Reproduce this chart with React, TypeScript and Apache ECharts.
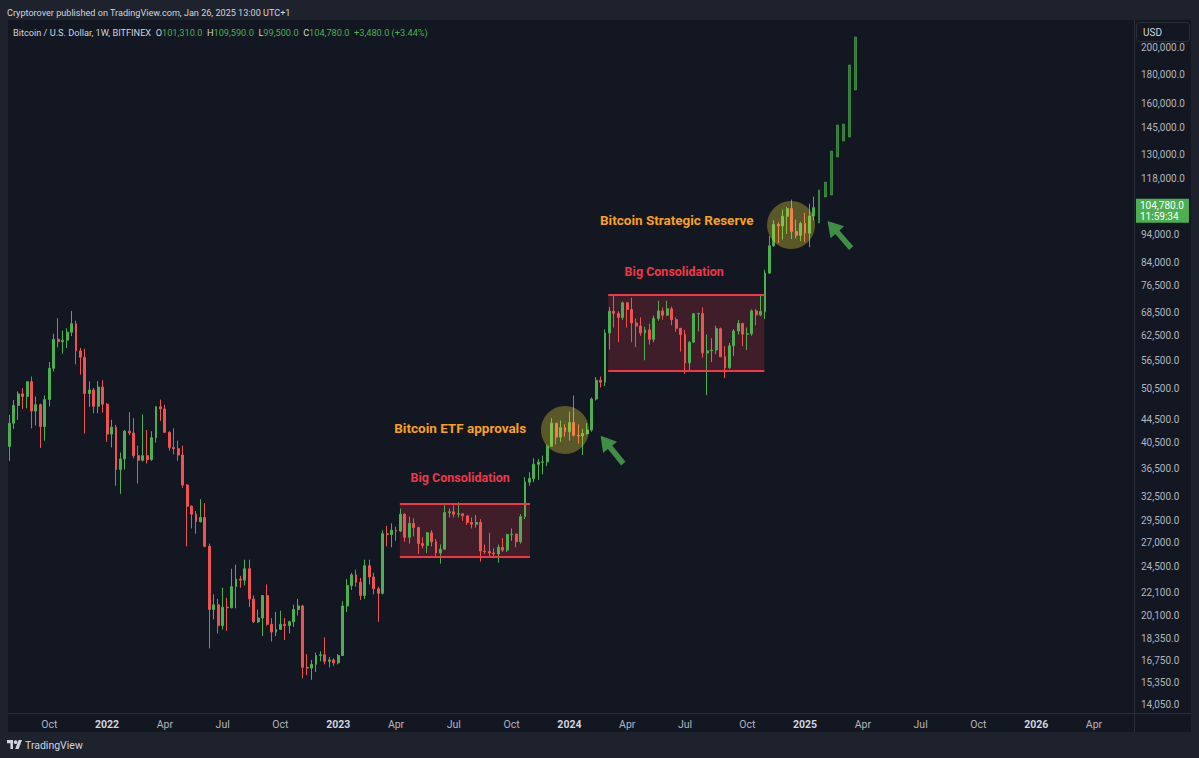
import React, { useEffect, useRef } from 'react';
import * as echarts from 'echarts';

// Weekly candles: [week start, open, high, low, close]
const weeks2021: [string, number, number, number, number][] = [
  ['2021-08-02', 39870, 45300, 37600, 43800],
  ['2021-08-09', 43800, 48100, 42800, 47050],
  ['2021-08-16', 47050, 49800, 44400, 49300],
  ['2021-08-23', 49300, 50500, 46400, 48800],
  ['2021-08-30', 48800, 51900, 46500, 51800],
  ['2021-09-06', 51800, 52900, 42900, 46000],
  ['2021-09-13', 46000, 48800, 43400, 47200],
  ['2021-09-20', 47200, 47400, 39600, 43200],
  ['2021-09-27', 43200, 49000, 40800, 48200],
  ['2021-10-04', 48200, 56100, 46900, 54700],
  ['2021-10-11', 54700, 62900, 54000, 61500],
  ['2021-10-18', 61500, 67000, 59500, 60900],
  ['2021-10-25', 60900, 63700, 58000, 61300],
  ['2021-11-01', 61300, 64300, 59400, 63300],
  ['2021-11-08', 63300, 69000, 62300, 65500],
  ['2021-11-15', 65500, 66300, 55600, 58700],
  ['2021-11-22', 58700, 59400, 53300, 57200],
  ['2021-11-29', 57200, 59200, 42000, 49400],
  ['2021-12-06', 49400, 51900, 46800, 50100],
  ['2021-12-13', 50100, 50500, 45600, 46900],
  ['2021-12-20', 46900, 51900, 45600, 50700],
  ['2021-12-27', 50700, 52100, 45700, 47300],
];

const weeks2022: [string, number, number, number, number][] = [
  ['2022-01-03', 47300, 47500, 40600, 41900],
  ['2022-01-10', 41900, 44400, 39700, 43100],
  ['2022-01-17', 43100, 43500, 34000, 36300],
  ['2022-01-24', 36300, 38900, 32900, 37900],
  ['2022-01-31', 37900, 42600, 36300, 42400],
  ['2022-02-07', 42400, 45800, 41700, 42100],
  ['2022-02-14', 42100, 44700, 38000, 38400],
  ['2022-02-21', 38400, 40000, 34300, 37700],
  ['2022-02-28', 37700, 45400, 37500, 38400],
  ['2022-03-07', 38400, 42600, 37200, 37800],
  ['2022-03-14', 37800, 42400, 37600, 41300],
  ['2022-03-21', 41300, 46900, 40500, 46800],
  ['2022-03-28', 46800, 48200, 44200, 46400],
  ['2022-04-04', 46400, 47200, 42100, 42200],
  ['2022-04-11', 42200, 42400, 39200, 39700],
  ['2022-04-18', 39700, 42900, 38600, 39500],
  ['2022-04-25', 39500, 40800, 37600, 38500],
  ['2022-05-02', 38500, 40000, 33700, 34100],
  ['2022-05-09', 34100, 34200, 26600, 31300],
  ['2022-05-16', 31300, 31400, 28600, 30300],
  ['2022-05-23', 30300, 30700, 28000, 29400],
  ['2022-05-30', 29400, 32200, 29300, 29900],
  ['2022-06-06', 29900, 31700, 26500, 26600],
  ['2022-06-13', 26600, 26900, 17600, 20600],
  ['2022-06-20', 20600, 21900, 19800, 21000],
  ['2022-06-27', 21000, 21500, 18700, 19300],
  ['2022-07-04', 19300, 22500, 19000, 20800],
  ['2022-07-11', 20800, 21600, 18900, 20750],
  ['2022-07-18', 20750, 24300, 20700, 22600],
  ['2022-07-25', 22600, 24700, 20700, 23300],
  ['2022-08-01', 23300, 23600, 22500, 23200],
  ['2022-08-08', 23200, 25200, 22700, 24300],
  ['2022-08-15', 24300, 25200, 20800, 21500],
  ['2022-08-22', 21500, 21800, 19500, 19600],
  ['2022-08-29', 19600, 20600, 19500, 19900],
  ['2022-09-05', 19900, 21800, 18500, 21800],
  ['2022-09-12', 21800, 22800, 19300, 19400],
  ['2022-09-19', 19400, 19900, 18100, 18800],
  ['2022-09-26', 18800, 20400, 18500, 19000],
  ['2022-10-03', 19000, 20500, 19000, 19400],
  ['2022-10-10', 19400, 19900, 18200, 19300],
  ['2022-10-17', 19300, 19700, 18700, 19600],
  ['2022-10-24', 19600, 21000, 19200, 20600],
  ['2022-10-31', 20600, 21500, 20100, 20900],
  ['2022-11-07', 20900, 21000, 15600, 16300],
  ['2022-11-14', 16300, 17200, 15800, 16250],
  ['2022-11-21', 16250, 16800, 15500, 16500],
  ['2022-11-28', 16500, 17300, 16000, 17100],
  ['2022-12-05', 17100, 17400, 16700, 17150],
  ['2022-12-12', 17150, 18400, 16500, 16700],
  ['2022-12-19', 16700, 17000, 16300, 16800],
  ['2022-12-26', 16800, 16900, 16400, 16600],
];

const weeks2023: [string, number, number, number, number][] = [
  ['2023-01-02', 16600, 17200, 16500, 17100],
  ['2023-01-09', 17100, 21300, 17100, 20900],
  ['2023-01-16', 20900, 23300, 20400, 22700],
  ['2023-01-23', 22700, 23900, 22300, 23700],
  ['2023-01-30', 23700, 24200, 22600, 23000],
  ['2023-02-06', 23000, 23400, 21400, 21800],
  ['2023-02-13', 21800, 25200, 21500, 24600],
  ['2023-02-20', 24600, 25200, 22800, 23500],
  ['2023-02-27', 23500, 23900, 21900, 22400],
  ['2023-03-06', 22400, 22600, 19600, 22000],
  ['2023-03-13', 22000, 28400, 21900, 28000],
  ['2023-03-20', 28000, 28900, 26600, 27900],
  ['2023-03-27', 27900, 29200, 26500, 28400],
  ['2023-04-03', 28400, 28800, 27200, 28300],
  ['2023-04-10', 28300, 31000, 28200, 30300],
  ['2023-04-17', 30300, 30400, 27100, 27600],
  ['2023-04-24', 27600, 30000, 26900, 29200],
  ['2023-05-01', 29200, 29800, 27700, 28700],
  ['2023-05-08', 28700, 28800, 25800, 26900],
  ['2023-05-15', 26900, 27600, 26400, 26700],
  ['2023-05-22', 26700, 28200, 25900, 28100],
  ['2023-05-29', 28100, 28400, 26600, 27100],
  ['2023-06-05', 27100, 27400, 25400, 25900],
  ['2023-06-12', 25900, 26800, 24800, 26300],
  ['2023-06-19', 26300, 31400, 26300, 30500],
  ['2023-06-26', 30500, 31000, 29900, 30600],
  ['2023-07-03', 30600, 31400, 29900, 30300],
  ['2023-07-10', 30300, 31800, 29900, 30350],
  ['2023-07-17', 30350, 30400, 29500, 30100],
  ['2023-07-24', 30100, 30100, 29000, 29300],
  ['2023-07-31', 29300, 29900, 28600, 29100],
  ['2023-08-07', 29100, 30200, 28700, 29300],
  ['2023-08-14', 29300, 29700, 25000, 26100],
  ['2023-08-21', 26100, 26800, 25800, 26050],
  ['2023-08-28', 26050, 28100, 25400, 25900],
  ['2023-09-04', 25900, 26400, 25400, 25800],
  ['2023-09-11', 25800, 26800, 24900, 26500],
  ['2023-09-18', 26500, 27500, 26000, 26200],
  ['2023-09-25', 26200, 28000, 26000, 27900],
  ['2023-10-02', 27900, 28600, 27200, 27950],
  ['2023-10-09', 27950, 28000, 26500, 27100],
  ['2023-10-16', 27100, 30300, 26900, 30000],
  ['2023-10-23', 30000, 35200, 29700, 34500],
  ['2023-10-30', 34500, 35900, 34000, 35000],
  ['2023-11-06', 35000, 38000, 34500, 37100],
  ['2023-11-13', 37100, 37900, 34800, 37400],
  ['2023-11-20', 37400, 38400, 35600, 37450],
  ['2023-11-27', 37450, 40200, 36800, 39900],
  ['2023-12-04', 39900, 44700, 39900, 43800],
  ['2023-12-11', 43800, 43800, 40200, 41400],
  ['2023-12-18', 41400, 44300, 40600, 43000],
  ['2023-12-25', 43000, 43600, 41500, 42300],
];

const weeks2024: [string, number, number, number, number][] = [
  ['2024-01-01', 42300, 45900, 40800, 43900],
  ['2024-01-08', 43900, 49000, 41500, 41700],
  ['2024-01-15', 41700, 43600, 40300, 41600],
  ['2024-01-22', 41600, 42800, 38500, 42000],
  ['2024-01-29', 42000, 43800, 41800, 42600],
  ['2024-02-05', 42600, 48600, 42300, 48300],
  ['2024-02-12', 48300, 52800, 48000, 52100],
  ['2024-02-19', 52100, 52900, 50600, 51700],
  ['2024-02-26', 51700, 64000, 50900, 63100],
  ['2024-03-04', 63100, 70100, 59000, 68900],
  ['2024-03-11', 68900, 73800, 64500, 68300],
  ['2024-03-18', 68300, 68900, 60800, 67200],
  ['2024-03-25', 67200, 71700, 66500, 71300],
  ['2024-04-01', 71300, 71400, 64500, 69400],
  ['2024-04-08', 69400, 72800, 60800, 65700],
  ['2024-04-15', 65700, 66900, 59600, 64900],
  ['2024-04-22', 64900, 67200, 62400, 63100],
  ['2024-04-29', 63100, 64700, 56500, 63900],
  ['2024-05-06', 63900, 65500, 60200, 61500],
  ['2024-05-13', 61500, 67700, 60800, 66900],
  ['2024-05-20', 66900, 71900, 66300, 69000],
  ['2024-05-27', 69000, 70000, 66600, 67800],
  ['2024-06-03', 67800, 71900, 67600, 69600],
  ['2024-06-10', 69600, 70200, 65100, 66600],
  ['2024-06-17', 66600, 67200, 63400, 64300],
  ['2024-06-24', 64300, 64400, 58500, 62700],
  ['2024-07-01', 62700, 63900, 53500, 55900],
  ['2024-07-08', 55900, 61000, 54300, 60800],
  ['2024-07-15', 60800, 68400, 60600, 68200],
  ['2024-07-22', 68200, 68500, 63500, 68250],
  ['2024-07-29', 68250, 70000, 57100, 58200],
  ['2024-08-05', 58200, 62700, 49100, 58700],
  ['2024-08-12', 58700, 61800, 56100, 58900],
  ['2024-08-19', 58900, 65000, 57900, 64200],
  ['2024-08-26', 64200, 64500, 57200, 57300],
  ['2024-09-02', 57300, 59800, 52600, 54800],
  ['2024-09-09', 54800, 60600, 54600, 59900],
  ['2024-09-16', 59900, 64100, 57500, 63600],
  ['2024-09-23', 63600, 66500, 62700, 65600],
  ['2024-09-30', 65600, 65700, 59800, 62800],
  ['2024-10-07', 62800, 64500, 58900, 62900],
  ['2024-10-14', 62900, 69400, 62400, 69000],
  ['2024-10-21', 69000, 69500, 65100, 67900],
  ['2024-10-28', 67900, 73600, 67500, 68800],
  ['2024-11-04', 68800, 81500, 66800, 80400],
  ['2024-11-11', 80400, 93500, 80200, 89800],
  ['2024-11-18', 89800, 99600, 89400, 97900],
  ['2024-11-25', 97900, 98800, 90800, 97300],
  ['2024-12-02', 97300, 104000, 92100, 101200],
  ['2024-12-09', 101200, 105100, 94200, 104400],
  ['2024-12-16', 104400, 108300, 92300, 95200],
  ['2024-12-23', 95200, 99900, 92500, 93700],
  ['2024-12-30', 93700, 98900, 91500, 98300],
];

const weeks2025: [string, number, number, number, number][] = [
  ['2025-01-06', 98300, 102700, 91200, 94500],
  ['2025-01-13', 94500, 106500, 89300, 101300],
  ['2025-01-20', 101310, 109590, 99500, 104780],
];

// Projected path (bars pattern): [date, low, high]
const projection: [string, number, number][] = [
  ['2025-01-28', 98500, 112600],
  ['2025-02-07', 109400, 116200],
  ['2025-02-16', 110300, 131800],
  ['2025-02-26', 128700, 146400],
  ['2025-03-07', 137300, 147000],
  ['2025-03-17', 139500, 186700],
  ['2025-03-26', 168700, 209100],
];

const priceTicks = [14050, 15350, 16750, 18350, 20100, 22100, 24500, 27000, 29500, 32500, 36500, 40500,
  44500, 50500, 56500, 62500, 68500, 76500, 84000, 94000, 118000, 130000, 145000, 160000, 180000, 200000];

const timeTicks = ['2021-10-04', '2022-01-03', '2022-04-04', '2022-07-04', '2022-10-03', '2023-01-02',
  '2023-04-03', '2023-07-03', '2023-10-02', '2024-01-01', '2024-04-01', '2024-07-01', '2024-10-07',
  '2025-01-06', '2025-04-07', '2025-07-07', '2025-10-06', '2026-01-05', '2026-04-06'];

// Annotations (date, price)
const zoneStarts = ['2023-04-09', '2024-03-02'];
const zoneEnds = ['2023-10-31', '2024-11-03'];
const zoneTops = [31600, 73600];
const zoneBottoms = [25500, 54100];

const noteTexts = ['Big Consolidation', 'Bitcoin ETF approvals', 'Big Consolidation', 'Bitcoin Strategic Reserve'];
const noteDates = ['2023-07-13', '2023-07-13', '2024-06-14', '2024-06-18'];
const notePrices = [35100, 42900, 80800, 99700];
const noteKinds = ['zone', 'event', 'zone', 'event'];

const circleDates = ['2023-12-25', '2024-12-15'];
const circlePrices = [42600, 97700];

const arrowDates = ['2024-03-08', '2025-03-01'];
const arrowPrices = [39350, 94000];
const arrowAngles = [39, 41];

const UP = '#4caf50';
const DOWN = '#ef5350';
const ZONE_RED = '#f23645';
const ORANGE = '#f7a11f';
const FONT = 'Roboto, "Noto Sans", "DejaVu Sans", sans-serif';

const t = (s: string) => new Date(s + 'T00:00:00Z').getTime();
const fmt = (v: number) => String(Math.round(v)).replace(/\B(?=(\d{3})+(?!\d))/g, ',') + '.0';
const MONTHS = ['Jan', 'Feb', 'Mar', 'Apr', 'May', 'Jun', 'Jul', 'Aug', 'Sep', 'Oct', 'Nov', 'Dec'];

export default function App() {
  const ref = useRef<HTMLDivElement>(null);

  useEffect(() => {
    document.body.style.margin = '0';
    const chart = echarts.init(ref.current!, null, { renderer: 'svg' });

    const all = [...weeks2021, ...weeks2022, ...weeks2023, ...weeks2024, ...weeks2025];
    const candles = all.map(([d, o, h, l, c]) => [t(d), o, c, l, h]);
    const proj = projection.map(([d, lo, hi]) => [t(d), lo, hi, lo, hi]);
    const last = all[all.length - 1];
    const prev = all[all.length - 2];
    const chg = last[4] - prev[4];
    const pct = ((chg / prev[4]) * 100).toFixed(2);

    const zoneAreas = zoneStarts.map((s, i) => [
      { xAxis: t(s), yAxis: zoneTops[i] },
      { xAxis: t(zoneEnds[i]), yAxis: zoneBottoms[i] },
    ]);
    const zoneLines: any[] = [];
    zoneStarts.forEach((s, i) => {
      zoneLines.push([{ coord: [t(s), zoneTops[i]] }, { coord: [t(zoneEnds[i]), zoneTops[i]] }]);
      zoneLines.push([{ coord: [t(s), zoneBottoms[i]] }, { coord: [t(zoneEnds[i]), zoneBottoms[i]] }]);
    });

    const marks: any[] = [];
    circleDates.forEach((d, i) => marks.push({
      coord: [t(d), circlePrices[i]], symbol: 'circle', symbolSize: 48,
      itemStyle: { color: 'rgba(255,235,59,0.30)' }, label: { show: false },
    }));
    arrowDates.forEach((d, i) => marks.push({
      coord: [t(d), arrowPrices[i]],
      symbol: 'path://M9,0 L18,15 L11.8,15 L11.8,36 L6.2,36 L6.2,15 L0,15 Z',
      symbolSize: [18, 36], symbolRotate: arrowAngles[i],
      itemStyle: { color: 'rgba(76,175,80,0.78)' }, label: { show: false },
    }));
    noteTexts.forEach((txt, i) => marks.push({
      name: txt, coord: [t(noteDates[i]), notePrices[i]], symbol: 'circle', symbolSize: 1,
      itemStyle: { color: 'rgba(0,0,0,0)' },
      label: {
        show: true, position: 'inside', formatter: txt,
        color: noteKinds[i] === 'zone' ? ZONE_RED : ORANGE,
        fontSize: noteKinds[i] === 'zone' ? 12.5 : 13.5, fontWeight: 'bold', fontFamily: FONT,
      },
    }));

    const option: any = {
      animation: false,
      backgroundColor: '#1e222d',
      textStyle: { fontFamily: FONT },
      grid: { left: 8, top: 20, right: 65, bottom: 45 },
      xAxis: {
        type: 'value',
        min: t('2021-07-31'),
        max: t('2026-06-08'),
        axisLine: { show: false },
        axisTick: { show: false },
        splitLine: { show: false },
        axisLabel: {
          customValues: timeTicks.map(t),
          color: '#b2b5be',
          fontSize: 10.5,
          margin: 6,
          formatter: (v: number) => {
            const d = new Date(v);
            return d.getUTCMonth() === 0 ? `{y|${d.getUTCFullYear()}}` : MONTHS[d.getUTCMonth()];
          },
          rich: { y: { fontWeight: 'bold', color: '#d1d4dc', fontSize: 10.5, fontFamily: FONT } },
        },
      },
      yAxis: {
        type: 'log',
        logBase: 10,
        position: 'right',
        min: 13550,
        max: 224000,
        axisLine: { show: false },
        axisTick: { show: false },
        splitLine: { show: false },
        axisLabel: {
          customValues: priceTicks,
          color: '#b2b5be',
          fontSize: 10,
          margin: 7,
          formatter: (v: number) => fmt(v),
        },
      },
      series: [
        {
          type: 'candlestick',
          name: 'BTCUSD',
          data: candles,
          encode: { x: 0, y: [1, 2, 3, 4] },
          barWidth: 2.4,
          itemStyle: { color: UP, color0: DOWN, borderColor: UP, borderColor0: DOWN, borderWidth: 1 },
          markArea: {
            silent: true,
            itemStyle: { color: 'rgba(242,54,69,0.2)' },
            data: zoneAreas,
          },
          markLine: {
            silent: true,
            symbol: ['none', 'none'],
            lineStyle: { color: ZONE_RED, width: 2, type: 'solid' },
            label: { show: false },
            data: zoneLines,
          },
          markPoint: { silent: true, data: marks },
        },
        {
          type: 'candlestick',
          name: 'Projection',
          data: proj,
          encode: { x: 0, y: [1, 2, 3, 4] },
          barWidth: 2.4,
          itemStyle: {
            color: 'rgba(76,175,80,0.6)', color0: 'rgba(76,175,80,0.6)',
            borderColor: 'rgba(76,175,80,0.6)', borderColor0: 'rgba(76,175,80,0.6)', borderWidth: 1,
          },
          markLine: {
            silent: true,
            symbol: ['none', 'none'],
            data: [
              {
                yAxis: last[4],
                lineStyle: { color: 'rgba(0,0,0,0)', width: 1 },
                label: {
                  show: true,
                  position: 'end',
                  distance: 2,
                  formatter: `${fmt(last[4])}\n11:59:34`,
                  backgroundColor: UP,
                  color: '#ffffff',
                  fontSize: 10,
                  lineHeight: 11,
                  padding: [1, 5, 1, 4],
                  offset: [0, 3],
                },
              },
            ],
          },
        },
      ],
      graphic: [
        { type: 'rect', z: -1, silent: true, shape: { x: 8, y: 20, width: 1183, height: 712 }, style: { fill: '#131722' } },
        { type: 'line', z: 1, silent: true, shape: { x1: 1134.5, y1: 20, x2: 1134.5, y2: 732 }, style: { stroke: '#2a2e39', lineWidth: 1 } },
        { type: 'line', z: 1, silent: true, shape: { x1: 8, y1: 713.5, x2: 1191, y2: 713.5 }, style: { stroke: '#2a2e39', lineWidth: 1 } },
        {
          type: 'text', z: 10, x: 7, y: 13,
          style: { text: 'Cryptorover published on TradingView.com, Jan 26, 2025 13:00 UTC+1', fill: '#d1d4dc', fontSize: 9.1, fontFamily: FONT, verticalAlign: 'middle' },
        },
        {
          type: 'text', z: 10, x: 13, y: 32,
          style: {
            text: `Bitcoin / U.S. Dollar, 1W, BITFINEX  O{g|${fmt(last[1])}}  H{g|${fmt(last[2])}}  L{g|${fmt(last[3])}}  C{g|${fmt(last[4])}}  {g|+${fmt(chg)} (+${pct}%)}`,
            fill: '#d1d4dc', fontSize: 9.2, fontFamily: FONT, verticalAlign: 'middle',
            rich: { g: { fill: UP, fontSize: 9.2, fontFamily: FONT } },
          },
        },
        { type: 'rect', z: 10, silent: true, shape: { x: 1136.5, y: 22.5, width: 53, height: 19, r: 3 }, style: { fill: '#131722', stroke: '#2a2e39', lineWidth: 1 } },
        { type: 'text', z: 11, x: 1143, y: 32, style: { text: 'USD', fill: '#d1d4dc', fontSize: 10, fontFamily: FONT, verticalAlign: 'middle' } },
        {
          type: 'group', z: 10, x: 7, y: 740,
          children: [
            { type: 'polygon', shape: { points: [[0, 0], [6, 0], [6, 9], [3.4, 9], [3.4, 3.2], [0, 3.2]] }, style: { fill: '#d1d4dc' } },
            { type: 'circle', shape: { cx: 8.6, cy: 2.2, r: 1.9 }, style: { fill: '#d1d4dc' } },
            { type: 'polygon', shape: { points: [[8.2, 9], [11.6, 0], [15, 0], [11.6, 9]] }, style: { fill: '#d1d4dc' } },
          ],
        },
        { type: 'text', z: 10, x: 25, y: 745, style: { text: 'TradingView', fill: '#d1d4dc', fontSize: 10.5, fontFamily: FONT, verticalAlign: 'middle' } },
      ],
    };

    chart.setOption(option);
    return () => chart.dispose();
  }, []);

  return <div ref={ref} style={{ width: 1199, height: 758 }} />;
}
